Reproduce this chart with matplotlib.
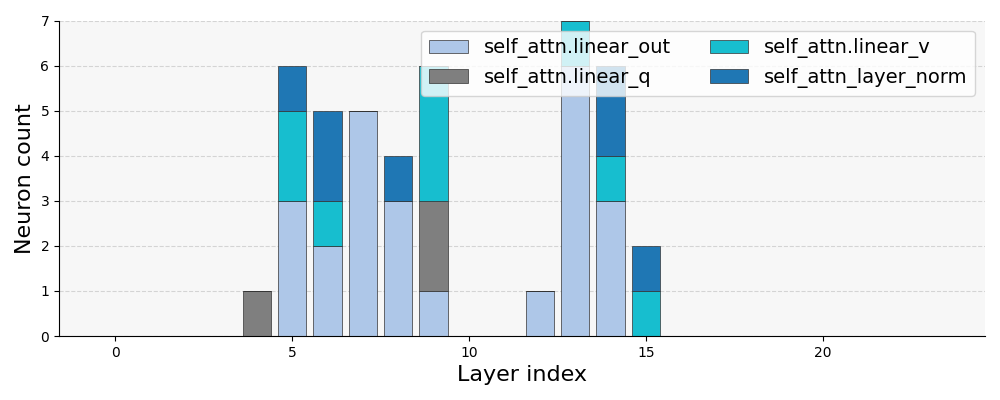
import numpy as np
import matplotlib.pyplot as plt

layers = np.arange(24)
modules = ["self_attn.linear_out", "self_attn.linear_q", "self_attn.linear_v", "self_attn_layer_norm"]
colors = ["#aec7e8", "#7f7f7f", "#17becf", "#1f77b4"]

linear_out = [0, 0, 0, 0, 0, 3, 2, 5, 3, 1, 0, 0, 1, 6, 3, 0, 0, 0, 0, 0, 0, 0, 0, 0]
linear_q   = [0, 0, 0, 0, 1, 0, 0, 0, 0, 2, 0, 0, 0, 0, 0, 0, 0, 0, 0, 0, 0, 0, 0, 0]
linear_v   = [0, 0, 0, 0, 0, 2, 1, 0, 0, 3, 0, 0, 0, 1, 1, 1, 0, 0, 0, 0, 0, 0, 0, 0]
layer_norm = [0, 0, 0, 0, 0, 1, 2, 0, 1, 0, 0, 0, 0, 0, 2, 1, 0, 0, 0, 0, 0, 0, 0, 0]
series = [linear_out, linear_q, linear_v, layer_norm]

fig, ax = plt.subplots(figsize=(10, 4), dpi=100)
ax.set_facecolor("#f7f7f7")
ax.set_axisbelow(True)
ax.grid(axis="y", linestyle="--", color="#d4d4d4", linewidth=0.8)

bottom = np.zeros(len(layers))
for name, vals, c in zip(modules, series, colors):
    vals = np.array(vals)
    ax.bar(layers, vals, bottom=bottom, color=c, edgecolor="#333333",
           linewidth=0.5, label=name)
    bottom += vals

ax.set_ylim(0, 7)
ax.set_xlabel("Layer index", fontsize=16)
ax.set_ylabel("Neuron count", fontsize=16)
ax.spines["top"].set_visible(False)
ax.spines["right"].set_visible(False)
ax.legend(ncol=2, loc="upper right", fontsize=14)

fig.subplots_adjust(left=0.059, right=0.985, top=0.948, bottom=0.16)
fig.savefig("out.png", dpi=100)
